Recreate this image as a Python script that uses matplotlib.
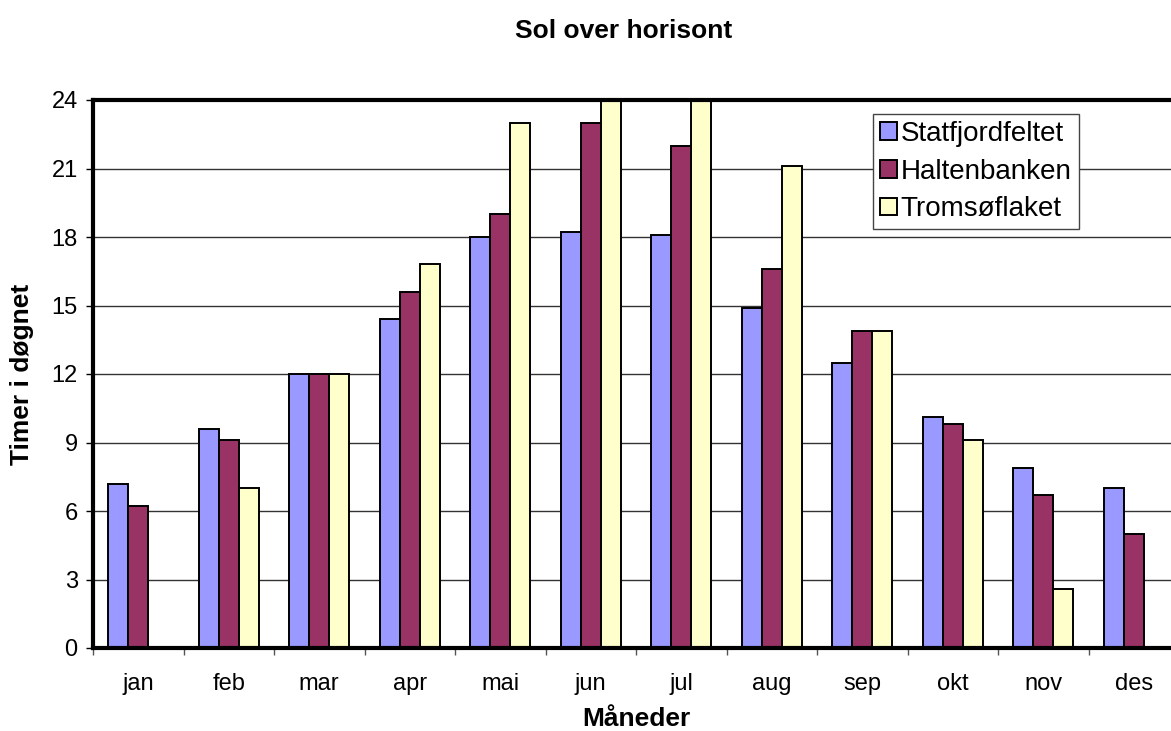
import matplotlib
matplotlib.use("Agg")
import matplotlib.pyplot as plt
import numpy as np

plt.rcParams['font.family'] = ['Liberation Sans', 'DejaVu Sans']

# monthly hours of sun above the horizon
months = ["jan", "feb", "mar", "apr", "mai", "jun",
          "jul", "aug", "sep", "okt", "nov", "des"]
statfjord = [7.2, 9.6, 12.0, 14.4, 18.0, 18.2, 18.1, 14.9, 12.5, 10.1, 7.9, 7.0]
halten = [6.2, 9.1, 12.0, 15.6, 19.0, 23.0, 22.0, 16.6, 13.9, 9.8, 6.7, 5.0]
tromso = [0.0, 7.0, 12.0, 16.8, 23.0, 24.0, 24.0, 21.1, 13.9, 9.1, 2.6, 0.0]
series = ["Statfjordfeltet", "Haltenbanken", "Tromsøflaket"]
colors = ["#9999FF", "#993366", "#FFFFCC"]

fig = plt.figure(figsize=(11.71, 7.31), dpi=100)
ax = fig.add_axes([93 / 1171, 1 - 648 / 731, 1086 / 1171, 548 / 731])

x = np.arange(len(months))
w = 0.221
for i, (vals, name, c) in enumerate(zip([statfjord, halten, tromso], series, colors)):
    ax.bar(x + (i - 1) * w, vals, w, color=c, edgecolor="black",
           linewidth=1.4, label=name, zorder=3)

ax.set_xlim(-0.5, len(months) - 0.5)
ax.set_ylim(0, 24)
ax.set_yticks(np.arange(0, 25, 3))
ax.yaxis.grid(True, color="#333333", linewidth=1.0, zorder=0)

# labels at the centres, tick marks at the group boundaries
ax.set_xticks(x)
ax.set_xticklabels(months, fontsize=17)
ax.set_xticks(np.arange(-0.5, len(months), 1.0), minor=True)
ax.tick_params(axis="x", which="major", length=0, pad=18)
ax.tick_params(axis="x", which="minor", length=5, width=1, color="#555555")
ax.tick_params(axis="y", length=5, width=1, labelsize=17, pad=6)

for side in ["left", "top", "bottom", "right"]:
    ax.spines[side].set_linewidth(3.0)
    ax.spines[side].set_zorder(4)

fig.text(624 / 1171, 1 - 31 / 731, "Sol over horisont", fontsize=19,
         fontweight="bold", ha="center", va="center")
fig.text(22 / 1171, 1 - 374 / 731, "Timer i døgnet", fontsize=19,
         fontweight="bold", ha="center", va="center", rotation=90)
fig.text(636 / 1171, 1 - 719 / 731, "Måneder", fontsize=19,
         fontweight="bold", ha="center", va="center")

leg = ax.legend(loc="upper left", bbox_to_anchor=(873 / 1171, 1 - 114 / 731),
                bbox_transform=fig.transFigure, fontsize=20, frameon=True,
                fancybox=False, borderpad=0.25, labelspacing=0.42,
                handlelength=0.6, handleheight=0.6, handletextpad=0.15,
                borderaxespad=0)
leg.get_frame().set_edgecolor("#444444")
leg.get_frame().set_linewidth(1.0)
leg.get_frame().set_alpha(1)

fig.savefig("out.png", dpi=100)
